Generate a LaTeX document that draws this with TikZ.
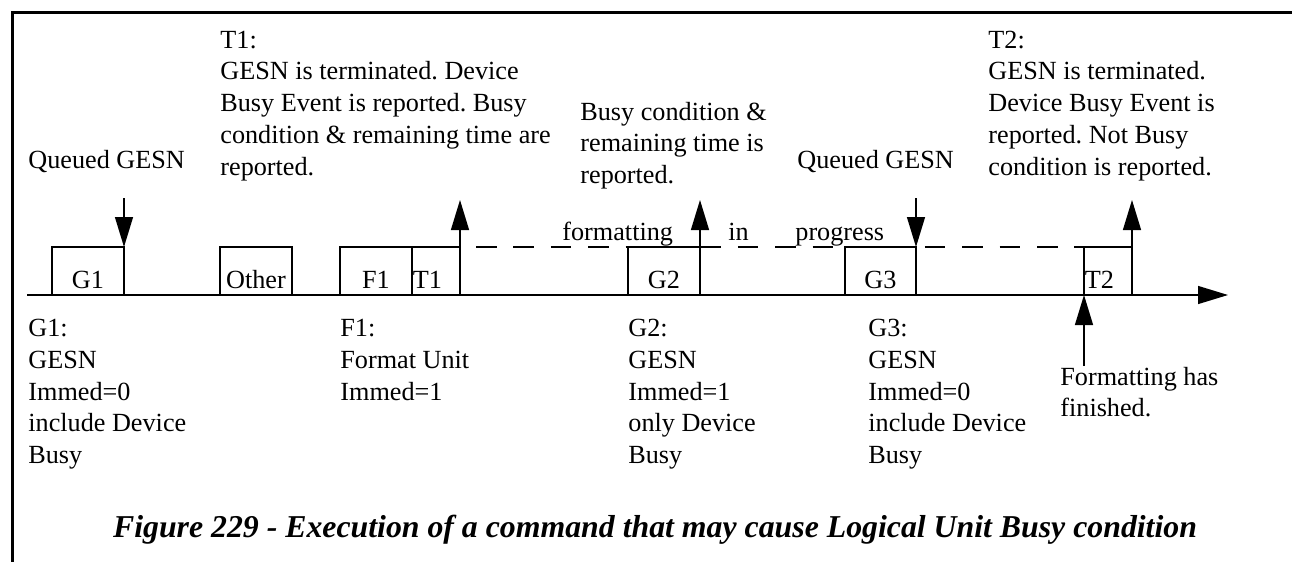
\documentclass[tikz,border=0pt]{standalone}
\usepackage{fontspec}
\setmainfont{Liberation Serif}
\usetikzlibrary{arrows.meta}
\frenchspacing
\newcommand{\blk}[1]{\begin{tabular}[t]{@{}l@{}}#1\end{tabular}}
\begin{document}
\begin{tikzpicture}[x=0.5pt,y=-0.5pt,
  ln/.style={line width=0.65pt},
  arr/.style={ln,-{Triangle[length=15pt,width=9pt]}},
  txt/.style={anchor=base west,inner sep=0pt,font=\fontsize{13.1}{15.9}\selectfont},
  boxlbl/.style={anchor=base,inner sep=0pt,font=\fontsize{13.1}{15.9}\selectfont},
  frame/.style={line width=1.5pt},
  dsh/.style={ln,dash pattern=on 10.25pt off 8.45pt,dash phase=10.7pt},
]
\useasboundingbox (0,0) rectangle (1292,562);
% frame
\draw[frame] (12,562) -- (12,12.5) -- (1292,12.5);

% axis
\coordinate (axs) at (27,295);
\coordinate (axe) at (1228,295);
\draw[arr] (axs) -- (axe);

% dashed "formatting in progress" line
\coordinate (ds) at (460,247);
\coordinate (de) at (1084,247);
\draw[dsh] (ds) -- (de);

% boxes
\draw[ln] (52,295) -- (52,247) -- (124,247) -- (124,295);
\draw[ln] (220,295) rectangle (292,247);
\draw[ln] (340,295) -- (340,247) -- (460,247);
\draw[ln] (412,295) -- (412,247);
\draw[ln] (628,295) -- (628,247) -- (700,247);
\draw[ln] (845,295) -- (845,247) -- (916,247) -- (916,295);
\draw[ln] (1084,295) -- (1084,247) -- (1132,247);

% arrows
\coordinate (q1s) at (124,198); \coordinate (q1e) at (124,247);
\draw[arr] (q1s) -- (q1e);
\coordinate (q2s) at (916,198); \coordinate (q2e) at (916,247);
\draw[arr] (q2s) -- (q2e);
\coordinate (u1s) at (460,295); \coordinate (u1e) at (460,200);
\draw[arr] (u1s) -- (u1e);
\coordinate (u2s) at (700,295); \coordinate (u2e) at (700,200);
\draw[arr] (u2s) -- (u2e);
\coordinate (u3s) at (1132,295); \coordinate (u3e) at (1132,200);
\draw[arr] (u3s) -- (u3e);
\coordinate (fs) at (1084,366); \coordinate (fe) at (1084,295);
\draw[arr] (fs) -- (fe);

% box labels
\node[boxlbl] (bg1) at (88,288) {G1};
\node[boxlbl] (bot) at (256,288) {Other};
\node[boxlbl] (bf1) at (376,288) {F1};
\node[txt] (bt1) at (412.5,288) {T1};
\node[boxlbl] (bg2) at (664,288) {G2};
\node[boxlbl] (bg3) at (880.5,288) {G3};
\node[txt] (bt2) at (1084.5,288) {T2};

% upper texts
\node[txt] (q1) at (28,168) {Queued GESN};
\node[txt] (t1txt) at (220,48) {\blk{T1:\\GESN is terminated. Device\\Busy Event is reported. Busy\\condition \& remaining time are\\reported.}};
\node[txt] (busy) at (580,120) {\blk{Busy condition \&\\remaining time is\\reported.}};
\node[txt] (q2) at (797,168) {Queued GESN};
\node[txt] (t2txt) at (988,48) {\blk{T2:\\GESN is terminated.\\Device Busy Event is\\reported. Not Busy\\condition is reported.}};

% in-progress labels
\node[txt] (fmt) at (562,240) {formatting};
\node[txt] (in) at (728,240) {in};
\node[txt] (prog) at (795,240) {progress};

% lower texts
\node[txt] (g1txt) at (28,336.5) {\blk{G1:\\GESN\\Immed=0\\include Device\\Busy}};
\node[txt] (f1txt) at (340,336.5) {\blk{F1:\\Format Unit\\Immed=1}};
\node[txt] (g2txt) at (628,336.5) {\blk{G2:\\GESN\\Immed=1\\only Device\\Busy}};
\node[txt] (g3txt) at (868,336.5) {\blk{G3:\\GESN\\Immed=0\\include Device\\Busy}};
\node[txt] (fin) at (1060,385) {\blk{Formatting has\\finished.}};

% caption
\node[anchor=base,inner sep=0pt,font=\fontsize{15.9}{19}\selectfont\bfseries\itshape] (cap) at (655,537)
  {Figure 229 - Execution of a command that may cause Logical Unit Busy condition};
\end{tikzpicture}
\end{document}
